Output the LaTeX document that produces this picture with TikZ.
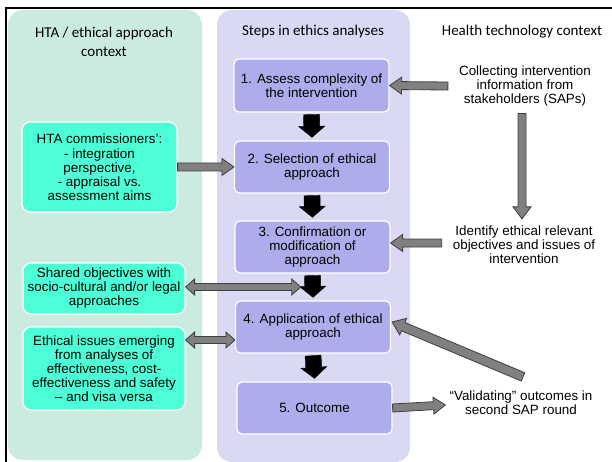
\documentclass[tikz,border=0pt]{standalone}
\usepackage{fontspec}
\setmainfont{Liberation Sans}
\newfontfamily\headfont{Carlito}
\usetikzlibrary{calc}

\definecolor{colgreen}{HTML}{CCEBDF}
\definecolor{colpurple}{HTML}{D9D9F3}
\definecolor{stepfill}{HTML}{ADADEB}
\definecolor{aqua}{HTML}{4DFFD6}
\definecolor{arrowgray}{HTML}{808080}
\definecolor{arrowedge}{HTML}{3F3F3F}

\newcommand\boxfont{\fontsize{13.4}{14}\selectfont}

% single-headed block arrow: style, start, end, shaft half width, head half width, head length
\newcommand\blockarrow[6]{%
  \path #2 coordinate (bastart) #3 coordinate (baend);
  \path let \p1=(bastart), \p2=(baend),
    \n1={atan2(\y2-\y1,\x2-\x1)}, \n2={veclen(\x2-\x1,\y2-\y1)} in
    \pgfextra{\xdef\baang{\n1}\xdef\balen{\n2}};
  \filldraw[#1, shift={(bastart)}, rotate=\baang]
    (0pt,#4) -- ({\balen-#6},#4) -- ({\balen-#6},#5) -- (\balen,0pt)
    -- ({\balen-#6},-#5) -- ({\balen-#6},-#4) -- (0pt,-#4) -- cycle;
}
% double-headed block arrow, same arguments
\newcommand\dblarrow[6]{%
  \path #2 coordinate (bastart) #3 coordinate (baend);
  \path let \p1=(bastart), \p2=(baend),
    \n1={atan2(\y2-\y1,\x2-\x1)}, \n2={veclen(\x2-\x1,\y2-\y1)} in
    \pgfextra{\xdef\baang{\n1}\xdef\balen{\n2}};
  \filldraw[#1, shift={(bastart)}, rotate=\baang]
    (0pt,0pt) -- (#6,#5) -- (#6,#4) -- ({\balen-#6},#4) -- ({\balen-#6},#5) -- (\balen,0pt)
    -- ({\balen-#6},-#5) -- ({\balen-#6},-#4) -- (#6,-#4) -- (#6,-#5) -- cycle;
}

\tikzset{
  stepbox/.style={rectangle, rounded corners=5pt, fill=stepfill, draw=white,
    line width=1.2pt, minimum width=155pt, minimum height=52pt, align=center,
    inner sep=2pt, font=\boxfont},
  aquabox/.style={rectangle, rounded corners=8pt, fill=aqua, draw=white,
    line width=1.2pt, align=center, inner sep=2pt, font=\boxfont},
  plaintext/.style={align=center, inner sep=1pt, font=\boxfont},
  heading/.style={align=center, inner sep=1pt, font=\headfont\fontsize{15}{19}\selectfont},
  grayarrow/.style={fill=arrowgray, draw=arrowedge, line width=0.8pt},
  blackarrow/.style={fill=black, draw=black, line width=0.4pt},
}

\begin{document}
\begin{tikzpicture}[x=1pt, y=-1pt]
\useasboundingbox (0,0) rectangle (612,462);

% column backgrounds
\fill[colgreen, rounded corners=15pt] (8,10) rectangle (202,460);
\fill[colpurple, rounded corners=15pt] (217,10) rectangle (410,462);

% frame
\draw[line width=2pt] (6,463) -- (6,8) -- (613,8);

% headings
\node[heading] (h1) at (104,42) {HTA / ethical approach\\context};
\node[heading] (h2) at (313,32) {Steps in ethics analyses};
\node[heading] (h3) at (522,32) {Health technology context};

% steps
\node[stepbox, minimum height=53pt] (s1) at (311.5,85.5) {1. Assess complexity of\\the intervention};
\node[stepbox] (s2) at (312,167) {2. Selection of ethical\\approach};
\node[stepbox] (s3) at (312.5,247) {3. Confirmation or\\modification of\\approach};
\node[stepbox] (s4) at (313,327) {4. Application of ethical\\approach};
\node[stepbox] (s5) at (314.5,408) {5. Outcome};

% HTA context boxes
\node[aquabox, minimum width=155pt, minimum height=90pt] (hta) at (99.5,167)
  {HTA commissioners’:\\[1pt]- integration\\perspective,\\- appraisal vs.\\assessment aims};
\node[aquabox, minimum width=162pt, minimum height=51pt] (shared) at (104,288.5)
  {Shared objectives with\\socio-cultural and/or legal\\approaches};
\node[aquabox, minimum width=162pt, minimum height=83pt] (eth) at (104,368.5)
  {Ethical issues emerging\\from analyses of\\effectiveness, cost-\\effectiveness and safety\\– and visa versa};

% health technology context texts
\node[plaintext] (coll) at (525,86) {Collecting intervention\\information from\\stakeholders (SAPs)};
\node[plaintext] (ident) at (524,245) {Identify ethical relevant\\objectives and issues of\\intervention};
\node[plaintext] (valid) at (521,403) {“Validating” outcomes in\\second SAP round};

% flow between steps
\blockarrow{blackarrow}{([yshift=-2pt]s1.south)}{([yshift=3pt]s2.north)}{8pt}{13pt}{11pt}
\blockarrow{blackarrow}{([yshift=-2pt]s2.south)}{([yshift=3pt]s3.north)}{8pt}{13pt}{11pt}
\blockarrow{blackarrow}{([yshift=-2pt]s3.south)}{([yshift=3pt]s4.north)}{8pt}{13pt}{11pt}
\blockarrow{blackarrow}{([yshift=-2pt]s4.south)}{([yshift=3pt]s5.north)}{8pt}{13pt}{11pt}

% health technology inputs
\blockarrow{grayarrow}{([xshift=-10pt]coll.west)}{(s1.east)}{4pt}{8.5pt}{12pt}
\blockarrow{grayarrow}{([xshift=-3pt,yshift=-6pt]coll.south)}{([xshift=-2pt,yshift=6pt]ident.north)}{4pt}{9pt}{12pt}
\blockarrow{grayarrow}{([xshift=-10pt,yshift=2pt]ident.west)}{([yshift=4pt]s3.east)}{4pt}{8.5pt}{12pt}
\blockarrow{grayarrow}{([xshift=2pt,yshift=13pt]valid.north)}{([xshift=1pt,yshift=5pt]s4.east)}{4.5pt}{9pt}{12pt}
\blockarrow{grayarrow}{(s5.east)}{([xshift=-3pt,yshift=-2pt]valid.west)}{4pt}{8.5pt}{12pt}

% HTA context inputs
\blockarrow{grayarrow}{(hta.east)}{(s2.west)}{4pt}{8.5pt}{12pt}
\coordinate (m34) at ($(s3.south)!0.5!(s4.north)$);
\dblarrow{grayarrow}{(shared.east |- m34)}{([xshift=-12pt]m34)}{3.5pt}{8pt}{9pt}
\coordinate (e4) at ($(s4.west)+(0,13)$);
\dblarrow{grayarrow}{(eth.east |- e4)}{(e4)}{3.5pt}{8pt}{9pt}
\end{tikzpicture}
\end{document}
